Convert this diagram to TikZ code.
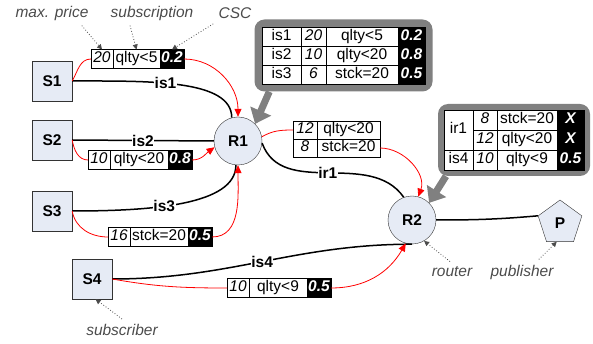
\documentclass[tikz,border=0pt]{standalone}
\usepackage{fontspec}
\setmainfont{Liberation Sans}
\usetikzlibrary{positioning,shapes.geometric,arrows.meta,fit,backgrounds}
\definecolor{nodefill}{RGB}{230,235,245}
\definecolor{notegray}{RGB}{75,75,75}
\definecolor{boxgray}{RGB}{128,128,128}
\tikzset{
  sbr/.style={draw=black!80, fill=nodefill, minimum size=40pt, font=\bfseries},
  rtr/.style={circle, draw=black!80, fill=nodefill, minimum size=48pt, font=\bfseries},
  pbl/.style={regular polygon, regular polygon sides=5, draw=black!80, fill=nodefill, minimum size=46pt, inner sep=0pt, font=\bfseries},
  cell/.style={draw, fill=white, anchor=west, inner sep=0pt, outer sep=0pt, minimum height=19pt, text height=11pt, text depth=3.5pt},
  num/.style={cell, font=\itshape},
  csc/.style={cell, fill=black, text=white, font=\bfseries\itshape},
  link/.style={line width=1.5pt},
  flow/.style={red, line width=0.8pt},
  flowto/.style={flow, -{Triangle[length=8pt,width=7pt]}},
  lbl/.style={fill=white, inner sep=0.5pt, font=\bfseries},
  note/.style={text=notegray, font=\itshape},
  notearrow/.style={dotted, notegray, line width=0.8pt, -{Triangle[length=5pt,width=5pt]}},
  bubble/.style={fill=boxgray, rounded corners=10pt},
  pointer/.style={boxgray, line width=7pt, -{Triangle[length=14pt,width=22pt]}}
}
\begin{document}
\fontsize{15.5}{17}\selectfont
\begin{tikzpicture}[x=1pt, y=-1pt]
\useasboundingbox (0,0) rectangle (593,344);

% subscribers, routers, publisher
\node[sbr] (S1) at (52,81) {S1};
\node[sbr] (S2) at (52,140) {S2};
\node[sbr] (S3) at (52,211) {S3};
\node[sbr] (S4) at (92,279) {S4};
\node[rtr] (R1) at (238,141) {R1};
\node[rtr] (R2) at (412,220) {R2};
\node[pbl] (P) at (560,223) {P};

% subscriptions sent along the links
\foreach \n/\x/\y/\p/\f/\c/\w in {1/91/59/20/qlty<5/0.2/47, 2/88/160/10/qlty<20/0.8/58, 3/108/237/16/stck=20/0.5/58, 4/227/288/10/qlty<9/0.5/58} {
  \node[num, minimum width=22pt] (pr\n) at (\x,\y) {\p};
  \node[cell, minimum width=\w pt, right=0pt of pr\n] (fl\n) {\f};
  \node[csc, minimum width=24pt, right=0pt of fl\n] (cs\n) {\c};
}
\foreach \p/\f [count=\i] in {12/qlty<20, 8/stck=20} {
  \node[num, minimum width=24pt, minimum height=18pt] (va\i) at (293,112+18*\i) {\p};
  \node[cell, minimum width=63pt, minimum height=18pt, right=0pt of va\i] (vb\i) {\f};
}

% routing table of R1
\foreach \r/\p/\f/\c [count=\i] in {is1/20/qlty<5/0.2, is2/10/qlty<20/0.8, is3/6/stck=20/0.5} {
  \node[cell, minimum width=39pt] (ta\i) at (262,17.5+19*\i) {\r};
  \node[num, minimum width=25pt, right=0pt of ta\i] (tb\i) {\p};
  \node[cell, minimum width=72pt, right=0pt of tb\i] (tc\i) {\f};
  \node[csc, minimum width=27pt, right=0pt of tc\i] (td\i) {\c};
}

% routing table of R2
\node[cell, minimum width=29pt, minimum height=40pt] (ua) at (444,130) {ir1};
\foreach \p/\f [count=\i] in {8/stck=20, 12/qlty<20} {
  \node[num, minimum width=24pt, minimum height=20pt] (ub\i) at (473,100+20*\i) {\p};
  \node[cell, minimum width=60pt, minimum height=20pt, right=0pt of ub\i] (uc\i) {\f};
  \node[csc, minimum width=27pt, minimum height=20pt, right=0pt of uc\i] (ud\i) {X};
}
\node[cell, minimum width=29pt, minimum height=20pt] (ua3) at (444,160) {is4};
\node[num, minimum width=24pt, minimum height=20pt, right=0pt of ua3] (ub3) {10};
\node[cell, minimum width=60pt, minimum height=20pt, right=0pt of ub3] (uc3) {qlty<9};
\node[csc, minimum width=27pt, minimum height=20pt, right=0pt of uc3] (ud3) {0.5};

\begin{scope}[on background layer]
  \node[bubble, inner sep=7.5pt, fit=(ta1)(td3)] (call1) {};
  \node[bubble, inner sep=6pt, fit=(ua)(ud3)] (call2) {};
  \draw[pointer] (call1.206) -- (R1.45);
  \draw[pointer] (call2.208) -- (R2.45);
\end{scope}

% links
\draw[link] (S1.east) to[out=0, in=90, out looseness=1.2, in looseness=0.6] node[lbl, pos=0.42] {is1} (R1.105);
\draw[link] (S2.east) -- node[lbl] {is2} (R1.west);
\draw[link] (S3.east) to[out=0, in=-90, out looseness=1.2, in looseness=0.6] node[lbl, pos=0.4] {is3} (R1.-95);
\draw[link] (R1.-5) to[out=-70, in=125] node[lbl, pos=0.5] {ir1} (R2.110);
\draw[link] (S4.east) to[out=0, in=180] node[lbl] {is4} (R2.south);
\draw[link] (R2.east) to[out=0, in=185] (P.corner 2);

% flow of the subscriptions
\draw[flow] (S1.east) to[out=60, in=180] (pr1.west);
\draw[flowto] (cs1.east) to[out=0, in=90] (R1.north);
\draw[flow] (S2.east) to[out=-80, in=180] (pr2.west);
\draw[flowto] (cs2.east) to[out=0, in=215] (R1.195);
\draw[flow] (S3.east) to[out=-80, in=180] (pr3.west);
\draw[flowto] (cs3.east) to[out=0, in=-90] (R1.south);
\draw[flow] (S4.east) to[out=-10, in=180] (pr4.west);
\draw[flowto] (cs4.east) to[out=0, in=-120] (R2.-105);
\draw[flow] (R1.10) to[out=30, in=180] (va1.west);
\draw[flowto] (vb2.east) to[out=0, in=70] (R2.75);

% annotations
\node[note] (tprice) at (52,13) {max. price};
\node[note] (tsub) at (152,13) {subscription};
\node[note] (tcsc) at (235,13) {CSC};
\node[note] (trouter) at (452,272) {router};
\node[note] (tpub) at (522,272) {publisher};
\node[note] (tsbr) at (122,330) {subscriber};
\draw[notearrow] ([xshift=-12pt]tprice.south east) -- (pr1.north);
\draw[notearrow] ([xshift=-22pt]tsub.south) -- (fl1.north);
\draw[notearrow] (tcsc.south west) -- (cs1.north);
\draw[notearrow] ([xshift=-2pt]trouter.north) -- (R2.-60);
\draw[notearrow] ([xshift=-20pt]tpub.north east) -- (P.-100);
\draw[notearrow] (tsbr.north) -- (S4.-80);
\end{tikzpicture}
\end{document}
